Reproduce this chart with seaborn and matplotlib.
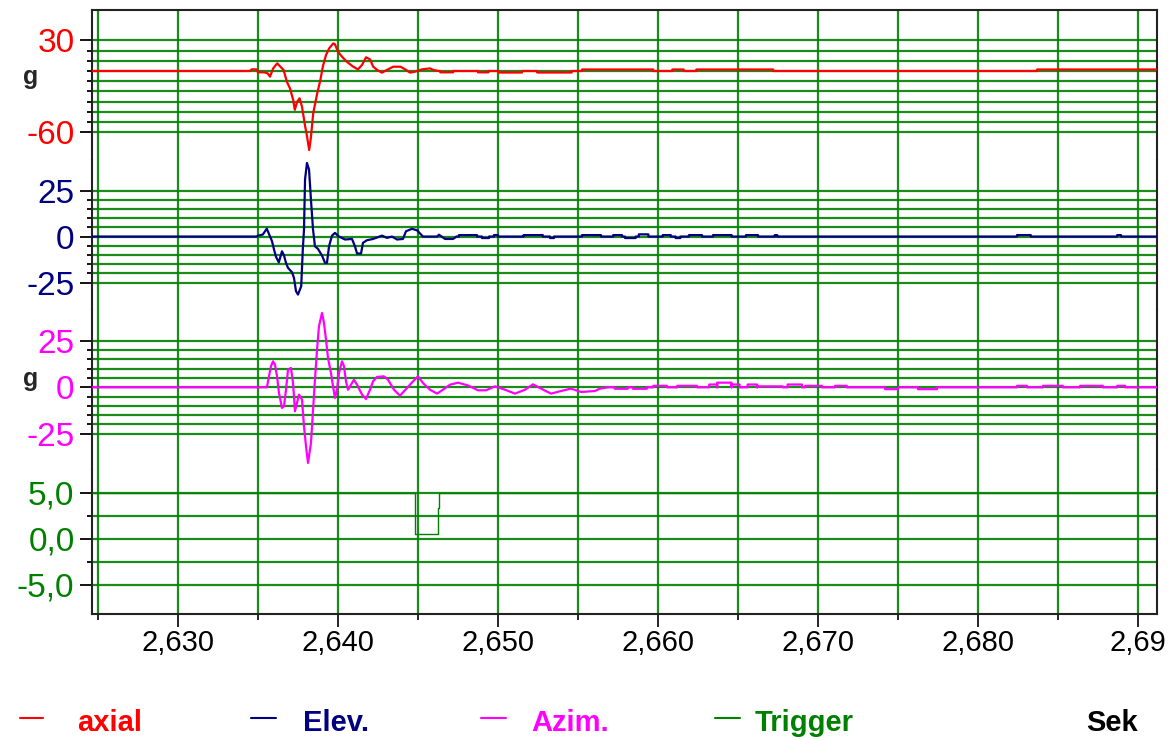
import numpy as np
import seaborn as sns
import matplotlib.pyplot as plt
from matplotlib.lines import Line2D

# values: time in ms, acceleration in g

# axial channel, the shock itself
axial_ms = [
    2624.6, 2634.5, 2634.6, 2634.9, 2635.0, 2635.4, 2635.6, 2635.75,
    2635.95, 2636.2, 2636.4, 2636.6, 2636.8, 2637.0, 2637.2, 2637.3,
    2637.45, 2637.6, 2637.75, 2637.95, 2638.05, 2638.2, 2638.3, 2638.45,
    2638.7, 2638.9, 2639.05, 2639.25, 2639.45, 2639.7, 2639.8, 2640.0,
    2640.25, 2640.55, 2640.95, 2641.25, 2641.5, 2641.75, 2642.0, 2642.2,
    2642.45, 2642.75, 2643.05, 2643.45, 2643.9, 2644.2, 2644.5, 2644.8,
    2645.25, 2645.75, 2645.95, 2646.3]
axial_g = [
    0, 0, 1.6, 1.6, -1.3, -1.3, -2.3, -5.5,
    2.6, 7.5, 4.2, 1.0, -10.4, -17, -28.4, -38,
    -30, -26.7, -35, -54.5, -62.6, -77.3, -66, -41.4,
    -21.9, -8.8, 4.2, 15.7, 22.2, 27, 26.4, 19,
    14, 9.1, 4.2, 1.6, 5.9, 13.4, 11.4, 4.2,
    1.0, -1.6, 1.0, 4.2, 4.2, 1.6, -1.6, -0.7,
    1.6, 2.6, 1.0, 0]
# after the shock: small steps (start ms, end ms, level g)
axial_tail_on = [2646.4, 2648.75, 2650.05, 2652.45, 2655.25, 2660.9, 2662.4, 2683.7]
axial_tail_off = [2647.2, 2649.4, 2651.5, 2654.6, 2659.7, 2661.6, 2667.2, 2691.3]
axial_tail_g = [-1.3, -1.3, -1.5, -1.5, 1.5, 1.5, 1.5, 1.5]

# elevation channel
elev_ms = [
    2624.6, 2634.9, 2635.0, 2635.3, 2635.55, 2635.7, 2635.875, 2636.0,
    2636.125, 2636.3, 2636.5, 2636.625, 2636.75, 2636.875, 2637.125, 2637.25,
    2637.375, 2637.5, 2637.7, 2637.8, 2637.875, 2637.94, 2638.06, 2638.19,
    2638.31, 2638.44, 2638.56, 2638.75, 2639.0, 2639.19, 2639.31, 2639.44,
    2639.625, 2639.81, 2640.06, 2640.44, 2640.875, 2641.06, 2641.19, 2641.44,
    2641.56, 2641.81, 2642.19, 2642.75, 2643.06, 2643.375, 2643.69, 2644.06,
    2644.25, 2644.625, 2644.94, 2645.31, 2646.19, 2646.31, 2646.69, 2647.19,
    2647.4]
elev_g = [
    0, 0, 0.5, 1.1, 4.3, 1.1, -2.5, -7,
    -11, -14, -8, -10.3, -14.3, -17, -19.4, -22.5,
    -29.7, -31.5, -27, -7, 3.8, 31, 40, 36.4,
    20, 3.8, -5.3, -6.7, -10.3, -14.3, -14.3, -5.3,
    0.5, 2, 0, -1.6, -1.3, -5.3, -9.2, -9.2,
    -3.4, -2, -1.3, 0.5, -0.7, 0, -1.6, -1.3,
    2.9, 4.2, 3.4, 0, 0, 1, -1.3, -1.3,
    0]
elev_tail_on = [2647.56, 2649.0, 2649.75, 2651.6, 2653.25, 2655.25, 2657.2, 2657.94, 2658.8,
                2660.3, 2661.1, 2661.94, 2663.44, 2665.5, 2667.3, 2682.44, 2688.7]
elev_tail_off = [2648.69, 2649.44, 2650.0, 2652.8, 2653.5, 2656.44, 2657.75, 2658.6, 2659.4,
                 2660.8, 2661.4, 2662.75, 2664.6, 2666.25, 2667.45, 2683.3, 2688.94]
elev_tail_g = [0.8, -0.8, 0.8, 0.8, -0.8, 0.8, 0.8, -0.8, 1.2,
               0.8, -0.8, 0.8, 0.8, 0.8, 0.8, 0.8, 0.8]

# azimuth channel
azim_ms = [
    2624.6, 2635.56, 2635.625, 2635.81, 2635.94, 2636.06, 2636.19, 2636.31,
    2636.5, 2636.625, 2636.75, 2636.875, 2637.06, 2637.19, 2637.31, 2637.44,
    2637.56, 2637.75, 2637.875, 2638.0, 2638.125, 2638.31, 2638.44, 2638.56,
    2638.69, 2638.81, 2639.0, 2639.125, 2639.25, 2639.375, 2639.56, 2639.69,
    2639.81, 2639.94, 2640.06, 2640.25, 2640.375, 2640.5, 2640.625, 2640.81,
    2641.0, 2641.19, 2641.5, 2641.75, 2642.0, 2642.19, 2642.44, 2642.875,
    2643.125, 2643.5, 2643.875, 2644.31, 2644.69, 2645.0, 2645.31, 2645.75,
    2646.19, 2646.56, 2647.0, 2647.5, 2648.125, 2648.75, 2649.25, 2649.81,
    2650.44, 2651.06, 2651.69, 2652.19, 2652.69, 2653.31, 2653.94, 2654.56,
    2655.19, 2656.06, 2656.375, 2656.9]
azim_g = [
    0, 0, 3.2, 11.3, 14, 12.2, 5.9, -3,
    -11.1, -10.2, -1.3, 9.5, 10.4, 2.3, -12.9, -8.4,
    -3.9, -6.6, -21, -31.7, -40.7, -30, -12, 4.1,
    20.3, 32.8, 40, 34.6, 25.6, 15.8, 7.7, 0.5,
    -5.7, -1.3, 7.7, 14, 11.3, 3.2, -1.3, 1.4,
    4.1, 1.4, -3.9, -6.3, -1.3, 3.2, 5.6, 5.9,
    4.1, -1.3, -4.5, -0.4, 3.2, 5.9, 2.3, -1.3,
    -3.4, -1.3, 1.4, 2.5, 1.0, -1.6, -1.6, 0.5,
    -1.3, -3.4, -1.3, 1.6, -0.7, -3.4, -2, -0.7,
    -2.5, -2, -0.7, 0]
azim_tail_on = [2657.3, 2658.44, 2659.7, 2661.2, 2663.2, 2663.7, 2664.6, 2665.6, 2666.2,
                2668.1, 2669.2, 2671.06, 2674.2, 2676.25, 2682.44, 2684.06, 2686.375, 2688.7]
azim_tail_off = [2658.1, 2659.3, 2660.56, 2662.44, 2663.7, 2664.6, 2665.1, 2666.2, 2667.8,
                 2669.0, 2670.25, 2671.8, 2675.0, 2677.44, 2683.06, 2685.3, 2687.8, 2689.2]
azim_tail_g = [-0.8, -0.8, 0.8, 0.8, 1.5, 2.5, 1.5, 1.5, 0.5,
               1.5, 0.8, 0.8, -1, -1, 0.8, 0.8, 0.8, 0.8]

# trigger channel
trig_ms = [2624.6, 2644.8, 2644.8, 2646.22, 2646.22, 2646.34, 2646.34, 2691.3]
trig_v = [5.0, 5.0, 0.5, 0.5, 3.3, 3.3, 5.0, 5.0]

x_major_ms = [2630, 2640, 2650, 2660, 2670, 2680, 2690]
x_minor_ms = [2625, 2635, 2645, 2655, 2665, 2675, 2685]
# the last label is cut short by the frame on the scope screen
x_labels = ["2,630", "2,640", "2,650", "2,660", "2,670", "2,680", "2,69"]

RED, NAVY, MAGENTA, GREEN = "#FF0000", "#000080", "#FF00FF", "#008000"
W, H = 1174, 740


def with_tail(ms, vals, on, off, lv):
    t, v = list(ms), list(vals)
    for a, b, g in zip(on, off, lv):
        t += [a, a, b, b]
        v += [0, g, g, 0]
    t.append(2691.3)
    v.append(0)
    return np.array(t) / 1000, np.array(v)


sns.set_style("white")
plt.rcParams["font.family"] = ["Liberation Sans", "DejaVu Sans"]

fig = plt.figure(figsize=(W / 100, H / 100), dpi=100)

# one strip per channel: data, colour, top/bottom px, ylim, ticks, labels
strips = [
    (with_tail(axial_ms, axial_g, axial_tail_on, axial_tail_off, axial_tail_g), RED, 1.6,
     10, 160, (-87.1, 59.7), [-60, 30], list(range(-60, 31, 10)), ["-60", "30"]),
    (with_tail(elev_ms, elev_g, elev_tail_on, elev_tail_off, elev_tail_g), NAVY, 1.6,
     160, 310, (-39.9, 41.6), [-25, 0, 25], list(range(-25, 26, 5)), ["-25", "0", "25"]),
    (with_tail(azim_ms, azim_g, azim_tail_on, azim_tail_off, azim_tail_g), MAGENTA, 1.6,
     310, 470, (-44.5, 41.6), [-25, 0, 25], list(range(-25, 26, 5)), ["-25", "0", "25"]),
    ((np.array(trig_ms) / 1000, np.array(trig_v)), GREEN, 1.0,
     470, 614, (-8.2, 7.45), [-5, 0, 5], [-5, -2.5, 0, 2.5, 5], ["-5,0", "0,0", "5,0"]),
]

axes = []
for i, ((t, v), col, lw, top, bot, ylim, major, minor, labels) in enumerate(strips):
    ax = fig.add_axes([92 / W, 1 - bot / H, (1157 - 92) / W, (bot - top) / H])
    sns.lineplot(x=t, y=v, ax=ax, color=col, lw=lw, sort=False, estimator=None, zorder=3)
    ax.set_xlim(2.624625, 2.691188)
    ax.set_ylim(ylim)
    ax.set_yticks(major)
    ax.set_yticklabels(labels)
    ax.set_yticks(minor, minor=True)
    ax.set_xticks(np.array(x_major_ms) / 1000)
    ax.set_xticks(np.array(x_minor_ms) / 1000, minor=True)
    ax.grid(True, which="both", color=GREEN, lw=1.6, alpha=0.9)
    ax.set_axisbelow(True)
    ax.tick_params(axis="y", which="major", length=8.6, width=1.3, color="black",
                   labelcolor=col, labelsize=24, pad=4, left=True)
    ax.tick_params(axis="y", which="minor", length=3.6, width=1.3, color="black", left=True)
    for side in ["left", "right", "top", "bottom"]:
        ax.spines[side].set_color("#222222")
        ax.spines[side].set_linewidth(1.5)
    ax.spines["top"].set_visible(i == 0)
    ax.spines["bottom"].set_visible(i == len(strips) - 1)
    ax.set_xlabel("")
    ax.set_ylabel("")
    if i < len(strips) - 1:
        ax.tick_params(axis="x", which="both", length=0, labelbottom=False)
    axes.append(ax)

# time axis on the bottom strip
axb = axes[-1]
axb.set_xticklabels(x_labels)
axb.tick_params(axis="x", which="major", length=9, width=1.2, color="black",
                labelcolor="black", labelsize=21, pad=2, bottom=True)
axb.tick_params(axis="x", which="minor", length=4.5, width=1.2, color="black", bottom=True)

# unit labels
fig.text(31 / W, 1 - 84 / H, "g", ha="center", va="baseline", fontsize=18, fontweight="bold")
fig.text(31 / W, 1 - 386 / H, "g", ha="center", va="baseline", fontsize=18, fontweight="bold")

# legend row along the bottom
legend_items = [
    ("axial", RED, 20, 43, 77),
    ("Elev.", NAVY, 251, 276, 303),
    ("Azim.", MAGENTA, 481, 506, 531),
    ("Trigger", GREEN, 715, 740, 755),
]
for name, col, x1, x2, xt in legend_items:
    fig.add_artist(Line2D([x1 / W, x2 / W], [1 - 718 / H, 1 - 718 / H],
                          transform=fig.transFigure, color=col, lw=1.5))
    fig.text(xt / W, 1 - 731 / H, name, color=col, fontsize=21, fontweight="bold",
             va="baseline", ha="left")
fig.text(1086 / W, 1 - 731 / H, "Sek", color="black", fontsize=21, fontweight="bold",
         va="baseline", ha="left")

fig.savefig("out.png", dpi=100)
